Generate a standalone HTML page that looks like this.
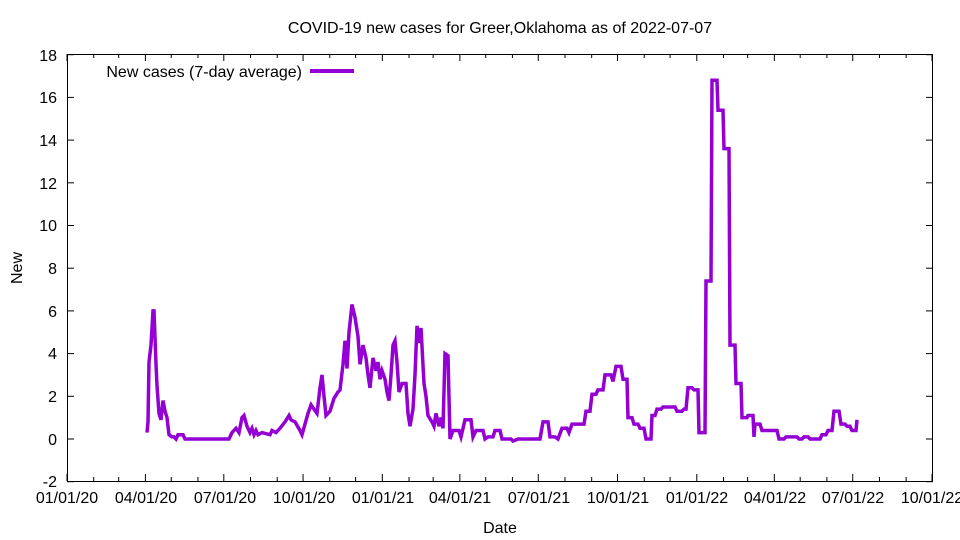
<!DOCTYPE html>
<html><head><meta charset="utf-8"><style>
body{margin:0;background:#fff}
svg{display:block;font-family:"Liberation Sans",sans-serif;font-size:16px}
</style></head><body>
<svg width="960" height="540" viewBox="0 0 960 540" xmlns="http://www.w3.org/2000/svg">
<rect width="960" height="540" fill="#fff"/>
<text x="500" y="33" text-anchor="middle">COVID-19 new cases for Greer,Oklahoma as of 2022-07-07</text>
<g id="ticks" stroke="#000" stroke-width="1"></g>
<rect x="67.5" y="54.5" width="865" height="427" fill="none" stroke="#000"/>
<g text-anchor="end">
<text x="57" y="487">-2</text><text x="57" y="445">0</text><text x="57" y="402">2</text><text x="57" y="359">4</text><text x="57" y="317">6</text><text x="57" y="274">8</text><text x="57" y="231">10</text><text x="57" y="189">12</text><text x="57" y="146">14</text><text x="57" y="103">16</text><text x="57" y="61">18</text>
</g>
<g text-anchor="middle">
<text x="67" y="503">01/01/20</text><text x="146" y="503">04/01/20</text><text x="225" y="503">07/01/20</text><text x="304" y="503">10/01/20</text><text x="383" y="503">01/01/21</text><text x="460" y="503">04/01/21</text><text x="539" y="503">07/01/21</text><text x="618" y="503">10/01/21</text><text x="697" y="503">01/01/22</text><text x="775" y="503">04/01/22</text><text x="853" y="503">07/01/22</text><text x="932" y="503">10/01/22</text>
<text x="500" y="533">Date</text>
</g>
<text transform="translate(22,268) rotate(-90)" text-anchor="middle">New</text>
<text x="302" y="77" text-anchor="end">New cases (7-day average)</text>
<line x1="310" y1="71" x2="354" y2="71" stroke="#9400d3" stroke-width="4"/>
<polyline id="line" fill="none" stroke="#9400d3" stroke-width="3.5" stroke-linejoin="miter" points=""/>
</svg>
<script>
var d=[147,0.3,148,0.8,149,3.6,151,4.4,153,6,154,6,156,3.5,157,2.5,159,1.2,161,0.9,163,1.8,165,1.3,167,1,169,0.2,172,0.1,174,0.1,176,0,178,0.2,183,0.2,185,0,229,0,232,0.3,236,0.5,239,0.3,242,1,244,1.1,247,0.6,250,0.3,252,0.5,254,0.2,256,0.4,258,0.2,262,0.3,270,0.2,272,0.4,276,0.3,280,0.5,285,0.8,289,1.1,291,0.9,295,0.8,300,0.4,302,0.2,305,0.7,308,1.2,311,1.6,314,1.4,317,1.2,320,2.4,322,3,324,2,326,1.1,330,1.3,334,1.9,338,2.2,340,2.3,343,3.5,345,4.6,347,3.3,349,5,352,6.3,355,5.7,358,4.8,360,3.5,363,4.4,366,3.8,368,3,370,2.4,373,3.8,376,3.2,378,3.6,380,2.8,382,3.2,385,2.8,387,2.2,389,1.8,391,3,393,4.4,395,4.6,397,3.6,399,2.2,402,2.6,406,2.6,408,1.2,410,0.6,413,1.4,415,3,417,5.3,419,4.5,421,5.2,424,2.6,426,2,428,1.1,432,0.8,434,0.6,436,1.2,439,0.6,441,1,443,0.5,445,4,448,3.9,450,0,453,0.4,459,0.4,461,0.1,465,0.9,471,0.9,473,0.1,476,0.4,483,0.4,485,0,488,0.1,493,0.1,495,0.4,500,0.4,502,0,511,0,513,-0.1,518,0,540,0,543,0.8,548,0.8,550,0.1,555,0.1,558,0,562,0.5,567,0.5,569,0.3,572,0.7,584,0.7,586,1.3,590,1.3,592,2.1,596,2.1,598,2.3,603,2.3,605,3,611,3,613,2.7,616,3.4,621,3.4,623,2.8,627,2.8,628,1,632,1,634,0.7,638,0.7,640,0.5,644,0.5,646,0,651,0,652,1.1,655,1.1,657,1.4,661,1.4,663,1.5,675,1.5,677,1.3,682,1.3,684,1.4,686,1.4,688,2.4,692,2.4,694,2.3,698,2.3,699,0.3,705,0.3,706,7.4,711,7.4,712,16.8,717,16.8,718,15.4,723,15.4,724,13.6,729,13.6,730,4.4,735,4.4,736,2.6,741,2.6,742,1,747,1,748,1.1,753,1.1,754,0.1,755,0.7,760,0.7,762,0.4,777,0.4,779,0,784,0,786,0.1,797,0.1,799,0,802,0,804,0.1,808,0.1,810,0,820,0,822,0.2,826,0.2,828,0.4,832,0.4,834,1.3,839,1.3,841,0.7,845,0.7,847,0.6,850,0.6,852,0.4,856,0.4,857,0.9];
var p=[];for(var i=0;i<d.length;i+=2)p.push(d[i]+","+(439-21.35*d[i+1]).toFixed(1));
document.getElementById("line").setAttribute("points",p.join(" "));
var g=document.getElementById("ticks"),s="";
for(var v=-2;v<=18;v+=2){var y=439-21.35*v;s+='<line x1="67" y1="'+y+'" x2="74" y2="'+y+'"/><line x1="926" y1="'+y+'" x2="933" y2="'+y+'"/>';}
var ppd=865/1004,md=[31,29,31,30,31,30,31,31,30,31,30,31,31,28,31,30,31,30,31,31,30,31,30,31,31,28,31,30,31,30,31,31,30],day=0;
for(var m=0;m<=33;m++){var x=67+day*ppd,L=(m%3==0)?7:4;s+='<line x1="'+x+'" y1="481" x2="'+x+'" y2="'+(481-L)+'"/><line x1="'+x+'" y1="54" x2="'+x+'" y2="'+(54+L)+'"/>';day+=md[m]||0;}
g.innerHTML=s;
</script>
</body></html>
